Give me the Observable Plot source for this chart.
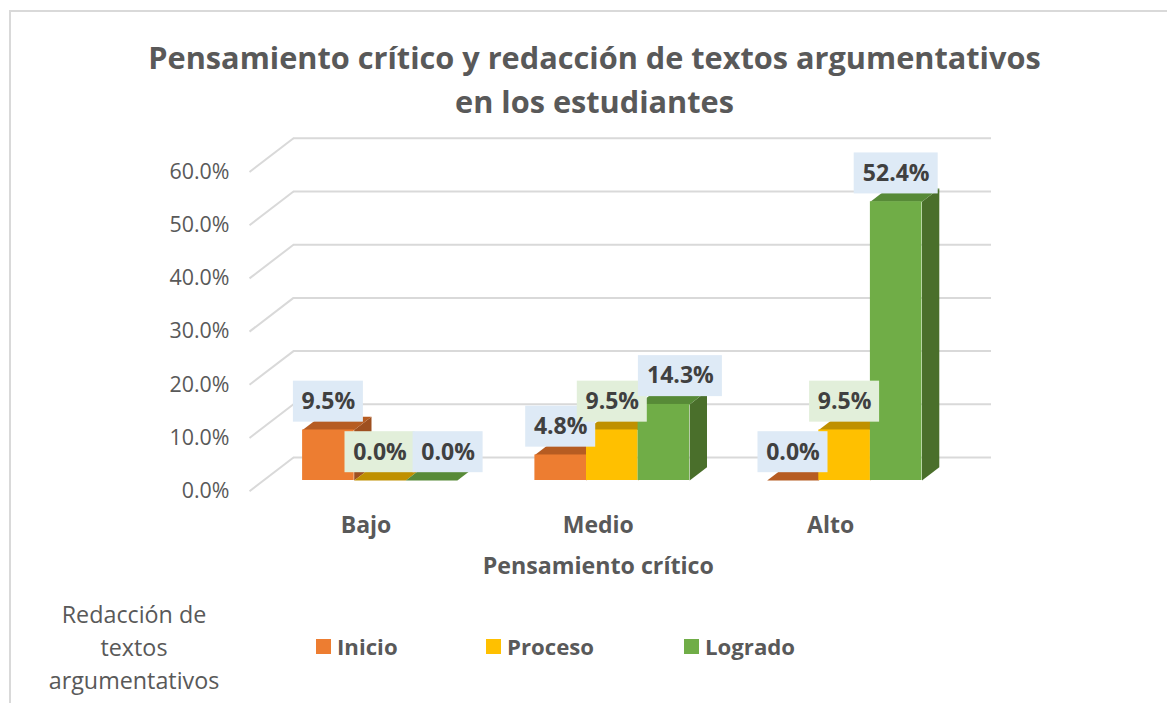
<!DOCTYPE html>
<html lang="es">
<head>
<meta charset="utf-8">
<script src="https://cdn.jsdelivr.net/npm/d3@7"></script>
<script src="https://cdn.jsdelivr.net/npm/@observablehq/plot@0.6"></script>
<style>
  html, body { margin: 0; background: #fff; overflow: hidden; }
  body { width: 1167px; height: 703px; position: relative; font-family: "Open Sans", sans-serif; color: #595959; }
  #frame { position: absolute; left: 9px; top: 10px; width: 1300px; height: 900px; border-left: 2px solid #d9d9d9; border-top: 2px solid #d9d9d9; }
  #title { position: relative; box-sizing: border-box; height: 130px; padding: 35px 0 0 22px; text-align: center; font-weight: 700; font-size: 30.7px; line-height: 44px; color: #595959; }
  #chart { position: relative; height: 460px; }
  #chart svg { display: block; overflow: visible; }
  #legend { position: relative; height: 113px; }
  #legendTitle { position: absolute; left: 34px; width: 200px; top: 8px; text-align: center; font-size: 23.3px; line-height: 33px; }
  .item { position: absolute; top: 40px; display: flex; align-items: center; font-weight: 700; font-size: 22.2px; line-height: 33px; }
  .item i { display: block; width: 15px; height: 15px; margin-right: 6px; }
</style>
</head>
<body>
<div id="frame"></div>
<div id="title">Pensamiento crítico y redacción de textos argumentativos<br>en los estudiantes</div>
<div id="chart"></div>
<div id="legend"></div>
<script>
const groups = ["Bajo", "Medio", "Alto"];
const seriesNames = ["Inicio", "Proceso", "Logrado"];
const inicio = [9.5, 4.8, 0];
const proceso = [0, 9.5, 9.5];
const logrado = [0, 14.3, 52.4];
const yTicks = [0, 10, 20, 30, 40, 50, 60];
const axisTitle = "Pensamiento crítico";
const legendTitle = ["Redacción de", "textos", "argumentativos"];

const colors = {
  Inicio: {front: "#ed7d31", top: "#b65c22", side: "#9e5020", label: "#deeaf6"},
  Proceso: {front: "#ffc000", top: "#bf9000", side: "#a67c00", label: "#e2efda"},
  Logrado: {front: "#70ad47", top: "#578a37", side: "#4a6f2b", label: "#deeaf6"}
};

// Oblique projection of the 3-D chart, expressed in scale units
const pxX = 232.3, pxY = 5.32;           // pixels per x unit, pixels per percentage point
const barW = 51.6 / pxX;                 // bar width
const depX = 17.3 / pxX, depY = 13.3 / pxY;  // bar depth
const wallL = (293 - 379.5) / pxX, wallR = (991 - 379.5) / pxX, wallY = 23 / pxY;
const floorL = (249 - 379.5) / pxX, floorY = -10.7 / pxY;
const labelH = 41 / pxY, labelRise = 28.3 / pxY;

const values = [inicio, proceso, logrado];
const bars = [];
groups.forEach((g, i) => seriesNames.forEach((s, j) => {
  const x0 = i + (j - 1.5) * barW;
  bars.push({group: g, serie: s, v: values[j][i], x0, x1: x0 + barW, c: colors[s]});
}));

const poly = (face, pts) => bars.flatMap((b, k) => pts(b).map(([x, y]) => ({id: face + k, x, y, fill: b.c[face]})));
const sides = poly("side", b => [[b.x1, 0], [b.x1 + depX, depY], [b.x1 + depX, b.v + depY], [b.x1, b.v]]);
const tops = poly("top", b => [[b.x0, b.v], [b.x1, b.v], [b.x1 + depX, b.v + depY], [b.x0 + depX, b.v + depY]]);

const fmt = d => d.toFixed(1) + "%";
const labelDx = b => (b.serie === "Logrado" && b.v < 50 ? 16.5 / pxX : 0);
const labelW = b => (fmt(b.v).length > 4 ? 84 : 70) / pxX;

const plot = Plot.plot({
  width: 1167, height: 460,
  marginLeft: 232, marginRight: 0, marginTop: 0, marginBottom: 80,
  style: {fontFamily: "'Open Sans', sans-serif", background: "transparent", overflow: "visible"},
  x: {domain: [0, 2], range: [379.5, 379.5 + 2 * pxX]},
  y: {domain: [0, 60], range: [350, 30.8]},
  marks: [
    Plot.ruleY(yTicks, {y: d => d + wallY, x1: wallL, x2: wallR, stroke: "#d9d9d9", strokeWidth: 2}),
    Plot.link(yTicks, {x1: floorL, y1: d => d + floorY, x2: wallL, y2: d => d + wallY, stroke: "#d9d9d9", strokeWidth: 2}),
    Plot.line(sides, {x: "x", y: "y", z: "id", fill: "fill", stroke: "none"}),
    Plot.line(tops, {x: "x", y: "y", z: "id", fill: "fill", stroke: "none"}),
    Plot.rect(bars, {x1: "x0", x2: "x1", y1: 0, y2: "v", fill: d => d.c.front}),
    Plot.rect(bars, {
      x1: b => (b.x0 + b.x1) / 2 + labelDx(b) - labelW(b) / 2,
      x2: b => (b.x0 + b.x1) / 2 + labelDx(b) + labelW(b) / 2,
      y1: b => b.v + labelRise - labelH / 2,
      y2: b => b.v + labelRise + labelH / 2,
      fill: b => b.c.label
    }),
    Plot.text(bars, {
      x: b => (b.x0 + b.x1) / 2 + labelDx(b),
      y: b => b.v + labelRise,
      text: b => fmt(b.v),
      fill: "#404040", fontSize: 23, fontWeight: 700
    }),
    Plot.axisY({ticks: yTicks, tickFormat: fmt, tickSize: 0, tickPadding: 3, dy: 10.7, fontSize: 21.4, fill: "#595959"}),
    Plot.axisX({ticks: [0, 1, 2], tickFormat: i => groups[i], tickSize: 0, tickPadding: 3, dx: -14, dy: 3.5, fontSize: 23, fontWeight: 700, fill: "#595959", label: null}),
    Plot.text([axisTitle], {x: () => 1, frameAnchor: "bottom", dx: -14, dy: 63, fontSize: 23.2, fontWeight: 700, fill: "#595959"})
  ]
});
document.getElementById("chart").append(plot);

const legend = document.getElementById("legend");
const lt = document.createElement("div");
lt.id = "legendTitle";
lt.innerHTML = legendTitle.join("<br>");
legend.append(lt);
const lefts = [316, 486, 684];
seriesNames.forEach((s, j) => {
  const it = document.createElement("div");
  it.className = "item";
  it.style.left = lefts[j] + "px";
  const sw = document.createElement("i");
  sw.style.background = colors[s].front;
  it.append(sw, s);
  legend.append(it);
});
</script>
</body>
</html>
